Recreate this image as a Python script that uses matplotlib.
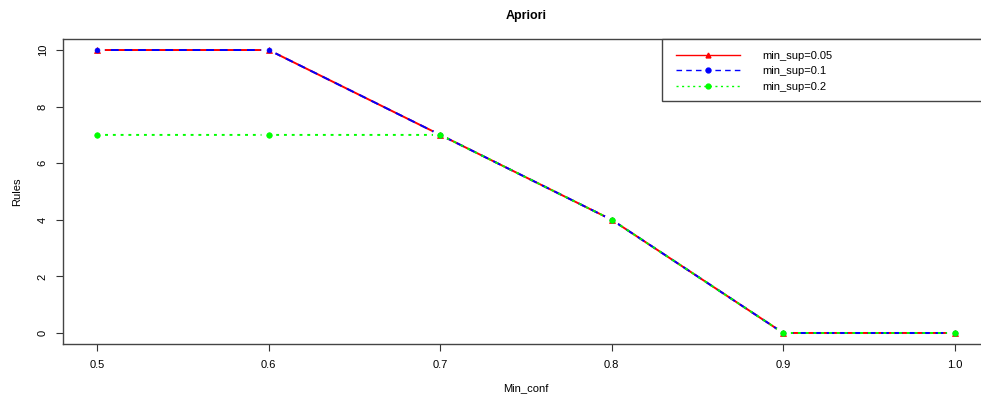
import matplotlib
matplotlib.use("Agg")
import matplotlib.pyplot as plt
from matplotlib.patches import Rectangle
from matplotlib.lines import Line2D

plt.rcParams['font.family'] = ['Liberation Sans', 'DejaVu Sans']

min_conf = [0.5, 0.6, 0.7, 0.8, 0.9, 1.0]
rules_sup005 = [10, 10, 7, 4, 0, 0]
rules_sup01 = [10, 10, 7, 4, 0, 0]
rules_sup02 = [7, 7, 7, 4, 0, 0]
labels = ['min_sup=0.05', 'min_sup=0.1', 'min_sup=0.2']
x_ticks = [0.5, 0.6, 0.7, 0.8, 0.9, 1.0]
y_ticks = [0, 2, 4, 6, 8, 10]

series = [
    (rules_sup005, '#FF0000', '-', '^', 5),
    (rules_sup01, '#0000FF', (0, (4, 3)), 'o', 3.5),
    (rules_sup02, '#00FF00', (0, (1.5, 2.5)), 'o', 4),
]

fig = plt.figure(figsize=(9.81, 3.98), dpi=100)
ax = fig.add_axes([63/981, (398-344.3)/398, 926/981, (344.3-38.7)/398])

for i, (ys, c, ls, m, ms) in enumerate(series):
    ax.plot(min_conf, ys, color=c, linestyle=ls, linewidth=1.4, zorder=2 + i*0.1)
for ys, c, ls, m, ms in series:
    ax.scatter(min_conf, ys, s=110, marker='o', facecolor='white',
               edgecolor='none', zorder=3)
for i, (ys, c, ls, m, ms) in enumerate(series):
    ax.plot(min_conf, ys, linestyle='none', marker=m, markersize=ms,
            markerfacecolor=c, markeredgecolor=c, markeredgewidth=0.5, zorder=4 + i*0.1)

ax.set_xlim(0.48, 1.02)
ax.set_ylim(-0.4, 10.4)
ax.set_xticks(x_ticks)
ax.set_xticklabels(['0.5', '0.6', '0.7', '0.8', '0.9', '1.0'])
ax.set_yticks(y_ticks)
ax.set_yticklabels([str(v) for v in y_ticks], rotation=90, va='center')
ax.tick_params(direction='out', length=5, width=0.8, labelsize=8, color='#333333')
ax.tick_params(axis='x', pad=6)
ax.tick_params(axis='y', pad=6)
for s in ax.spines.values():
    s.set_color('#444444')
    s.set_linewidth(1.0)

ax.set_title('Apriori', fontsize=9, fontweight='bold', pad=14)
ax.set_xlabel('Min_conf', fontsize=8, labelpad=10)
ax.set_ylabel('Rules', fontsize=8, labelpad=11)

# legend box
ax.add_patch(Rectangle((0.647, 0.796), 0.353, 0.204, transform=ax.transAxes,
                       facecolor='white', edgecolor='#444444', linewidth=1.0,
                       zorder=10, clip_on=False))
handles = []
for (ys, c, ls, m, ms), lab in zip(series, labels):
    handles.append(Line2D([0], [0], color=c, linestyle=ls, linewidth=1.0,
                          marker=m, markersize=3.5, markerfacecolor=c, markeredgecolor=c))
leg = ax.legend(handles, labels, loc='upper left', bbox_to_anchor=(0.652, 0.99),
                frameon=False, fontsize=8, handlelength=5.8, handletextpad=2.0,
                labelspacing=0.5, borderpad=0.3, markerfirst=True)
leg.set_zorder(11)

fig.savefig('out.png', dpi=100)
